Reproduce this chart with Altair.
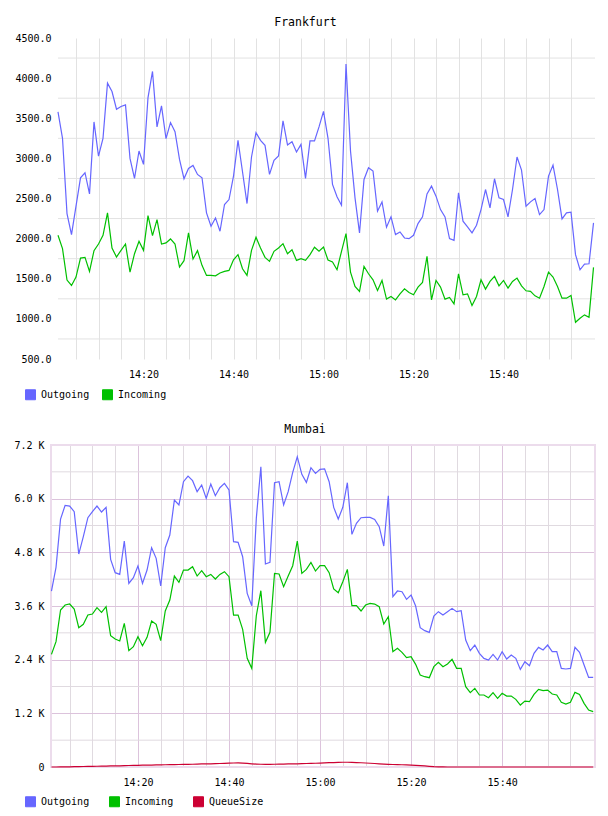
import altair as alt
import pandas as pd

# minutes after 14:00 (14:01 .. 16:00), one sample per minute
minutes = list(range(1, 121))

fra_out = [3579, 3250, 2312, 2050, 2404, 2758, 2821, 2558, 3454, 3029,
           3250, 3937, 3833, 3612, 3646, 3667, 3000, 2750, 3092, 2925,
           3758, 4083, 3392, 3654, 3246, 3446, 3333, 2987, 2746, 2875,
           2912, 2800, 2758, 2321, 2154, 2258, 2092, 2425, 2487, 2779,
           3225, 2833, 2437, 3017, 3321, 3225, 3162, 2800, 2975, 3029,
           3467, 3167, 3208, 3079, 3175, 2750, 3217, 3217, 3392, 3585,
           3250, 2675, 2521, 2417, 4175, 3092, 2508, 2071, 2737, 2883,
           2842, 2342, 2458, 2142, 2271, 2050, 2083, 2008, 2000, 2042,
           2187, 2271, 2558, 2654, 2529, 2362, 2271, 2000, 1979, 2571,
           2217, 2146, 2071, 2167, 2362, 2612, 2383, 2746, 2508, 2487,
           2271, 2612, 3017, 2854, 2404, 2458, 2500, 2300, 2362, 2779,
           2917, 2612, 2246, 2321, 2329, 1800, 1612, 1683, 1687, 2196]

fra_in = [2042, 1875, 1483, 1417, 1521, 1758, 1767, 1592, 1850, 1933,
          2042, 2321, 1883, 1771, 1854, 1933, 1583, 1812, 1967, 1854,
          2287, 2037, 2237, 1933, 1946, 1996, 1933, 1646, 1725, 2071,
          1746, 1850, 1667, 1542, 1542, 1537, 1571, 1592, 1604, 1737,
          1800, 1625, 1542, 1854, 2017, 1883, 1767, 1717, 1842, 1883,
          1937, 1812, 1862, 1729, 1750, 1729, 1800, 1892, 1842, 1894,
          1733, 1708, 1612, 1842, 2062, 1583, 1404, 1342, 1654, 1562,
          1487, 1354, 1479, 1246, 1279, 1237, 1312, 1375, 1329, 1300,
          1396, 1454, 1779, 1237, 1479, 1396, 1246, 1267, 1187, 1562,
          1300, 1312, 1167, 1279, 1487, 1371, 1467, 1529, 1412, 1479,
          1383, 1467, 1508, 1412, 1350, 1342, 1287, 1258, 1404, 1583,
          1521, 1404, 1258, 1258, 1292, 958, 1008, 1050, 1021, 1642]

mum_out = [3935, 4464, 5545, 5850, 5835, 5709, 4762, 5150, 5574, 5709,
           5835, 5701, 5806, 4643, 4345, 4307, 5053, 4106, 4233, 4494,
           4106, 4404, 4904, 4665, 4047, 4904, 5187, 5969, 5858, 6379,
           6506, 6402, 6156, 6305, 6007, 6327, 6066, 6245, 6342, 6193,
           5038, 5023, 4702, 3883, 3607, 5560, 6715, 4539, 4576, 6357,
           6379, 5858, 6156, 6588, 6938, 6543, 6364, 6692, 6566, 6655,
           6667, 6379, 5806, 5545, 5806, 6357, 5202, 5448, 5574, 5582,
           5582, 5537, 5373, 4941, 6066, 3808, 3935, 3920, 3748, 3845,
           3599, 3115, 3048, 3011, 3376, 3473, 3398, 3473, 3547, 3473,
           3495, 2839, 2601, 2727, 2541, 2429, 2392, 2519, 2392, 2578,
           2414, 2504, 2429, 2183, 2355, 2265, 2541, 2675, 2616, 2727,
           2578, 2578, 2206, 2191, 2206, 2675, 2563, 2280, 2004, 2004]

mum_in = [2519, 2802, 3510, 3622, 3644, 3532, 3115, 3190, 3398, 3421,
          3562, 3458, 3584, 2936, 2862, 2817, 3212, 2601, 2690, 2914,
          2712, 2899, 3264, 3190, 2824, 3488, 3734, 4270, 4129, 4404,
          4404, 4479, 4270, 4389, 4255, 4307, 4203, 4307, 4367, 4255,
          3398, 3398, 3078, 2429, 2206, 3383, 3942, 2787, 3011, 4330,
          4315, 4032, 4270, 4501, 5053, 4330, 4419, 4576, 4382, 4501,
          4501, 4345, 3980, 3898, 4144, 4419, 3607, 3607, 3488, 3622,
          3659, 3644, 3584, 3197, 3361, 2578, 2653, 2563, 2444, 2467,
          2295, 2057, 2019, 1997, 2243, 2340, 2243, 2303, 2407, 2206,
          2206, 1796, 1662, 1759, 1610, 1610, 1550, 1662, 1535, 1647,
          1587, 1587, 1513, 1386, 1475, 1460, 1624, 1736, 1707, 1721,
          1632, 1610, 1446, 1408, 1446, 1669, 1624, 1423, 1274, 1237]

mum_queue = [0, 0, 2, 4, 5, 7, 9, 11, 13, 15,
             17, 19, 21, 23, 25, 27, 30, 33, 36, 38,
             40, 42, 44, 46, 48, 50, 52, 54, 56, 58,
             60, 62, 65, 68, 70, 72, 75, 78, 82, 86,
             90, 92, 88, 80, 72, 66, 62, 60, 60, 62,
             64, 66, 68, 70, 72, 75, 78, 80, 84, 88,
             92, 96, 100, 104, 106, 106, 104, 100, 95, 90,
             84, 78, 72, 66, 60, 56, 52, 50, 46, 42,
             36, 30, 24, 16, 8, 4, 2, 0, 0, 0,
             0, 0, 0, 0, 0, 0, 0, 0, 0, 0,
             0, 0, 0, 0, 0, 0, 0, 0, 0, 0,
             0, 0, 0, 0, 0, 0, 0, 0, 0, 0]

series_names = ["Outgoing", "Incoming", "QueueSize"]
series_colors = ["#6666ff", "#00c000", "#cc0033"]

fra_ticks = [500, 1000, 1500, 2000, 2500, 3000, 3500, 4000, 4500]
fra_grid = [750, 1250, 1750, 2250, 2750, 3250, 3750, 4250]
mum_ticks = [0, 1200, 2400, 3600, 4800, 6000, 7200]
mum_minor = [600, 1800, 3000, 4200, 5400, 6600]
time_ticks = list(range(5, 120, 5))

FONT = "DejaVu Sans Mono"
W = 544
H1 = 321
H2 = 322


def long_df(pairs):
    rows = []
    for name, vals in pairs:
        for m, v in zip(minutes, vals):
            rows.append({"m": m, "series": name, "value": v})
    return pd.DataFrame(rows)


fra_df = long_df([("Outgoing", fra_out), ("Incoming", fra_in)])
mum_df = long_df([("Outgoing", mum_out), ("Incoming", mum_in), ("QueueSize", mum_queue)])

TIME_LABEL = ("datum.value % 20 == 0 ? (floor(datum.value / 60) + 14) + ':' + "
              "(datum.value % 60 < 10 ? '0' : '') + (datum.value % 60) : ''")
FILL_EXPR = ("datum.value === 'Outgoing' ? '#6666ff' : "
             "(datum.value === 'Incoming' ? '#00c000' : '#cc0033')")


def make_legend(col_pad, ly):
    return alt.Legend(
        orient="none", legendX=-26, legendY=ly, direction="horizontal", title=None,
        symbolType="square", symbolSize=100, symbolStrokeWidth=1,
        symbolFillColor={"expr": FILL_EXPR}, symbolStrokeColor="#999999",
        symbolOpacity=1,
        labelFont=FONT, labelFontSize=10, labelColor="#000000", labelOffset=5,
        columnPadding=col_pad, padding=0,
    )


# ---------------- Frankfurt ----------------
fra_x_axis = alt.Axis(values=time_ticks, labelExpr=TIME_LABEL, grid=True,
                      gridColor="#e2e2e2", gridWidth=1, ticks=False, domain=False,
                      labelFont=FONT, labelFontSize=10, labelColor="#000000",
                      labelPadding=10, labelFlush=False, labelOverlap=False,
                      title=None)
fra_y_axis = alt.Axis(values=fra_ticks, format=".1f", grid=False, ticks=False,
                      domain=False, labelFont=FONT, labelFontSize=10,
                      labelColor="#000000", labelPadding=0, title=None)
fra_y_scale = alt.Scale(domain=[500, 4500], nice=False, zero=False)

fx = alt.X("m:Q", scale=alt.Scale(domain=[-0.556, 120.33], nice=False, zero=False),
           axis=fra_x_axis)
fy = alt.Y("value:Q", scale=fra_y_scale, axis=fra_y_axis)

# horizontal grid lines (half-way between the value labels, starting at the first sample)
fra_hgrid = alt.Chart(pd.DataFrame({"g": fra_grid})).mark_rule(
    color="#e2e2e2", strokeWidth=1).encode(
    y=alt.Y("g:Q", scale=fra_y_scale, axis=fra_y_axis), x=alt.value(7), x2=alt.value(W))

fra_lines = alt.Chart(fra_df).mark_line(strokeWidth=1.2, interpolate="linear").encode(
    x=fx, y=fy,
    color=alt.Color("series:N",
                    scale=alt.Scale(domain=series_names[:2], range=series_colors[:2]),
                    sort=series_names[:2],
                    legend=make_legend(10, H1 + 30)),
)

fra_chart = alt.layer(fra_hgrid, fra_lines).properties(
    width=W, height=H1,
    title=alt.Title("Frankfurt", font=FONT, fontSize=11.5, fontWeight="normal",
                    color="#000000", anchor="middle", frame="bounds", offset=5),
)

# ---------------- Mumbai ----------------
mum_x_axis = alt.Axis(values=time_ticks, labelExpr=TIME_LABEL, grid=True,
                      gridColor={"condition": {"test": "datum.value % 20 == 0",
                                               "value": "#dcc3dc"},
                                 "value": "#e0dae0"},
                      gridWidth=1, ticks=False, domain=False,
                      labelFont=FONT, labelFontSize=10, labelColor="#000000",
                      labelPadding=10, labelFlush=False, labelOverlap=False,
                      title=None)
mum_y_axis = alt.Axis(values=mum_ticks,
                      labelExpr="datum.value == 0 ? '0' : format(datum.value / 1000, '.1f') + ' K'",
                      grid=True, gridColor="#dcc3dc", gridWidth=1, ticks=False,
                      domain=False, labelFont=FONT, labelFontSize=10,
                      labelColor="#000000", labelPadding=7, title=None)
mum_y_scale = alt.Scale(domain=[0, 7200], nice=False, zero=True)

mx = alt.X("m:Q", scale=alt.Scale(domain=[0.9, 120.4], nice=False, zero=False),
           axis=mum_x_axis)
my = alt.Y("value:Q", scale=mum_y_scale, axis=mum_y_axis)

mum_minor_rules = alt.Chart(pd.DataFrame({"g": mum_minor})).mark_rule(
    color="#e0dae0", strokeWidth=1).encode(
    y=alt.Y("g:Q", scale=mum_y_scale, axis=mum_y_axis), x=alt.value(0), x2=alt.value(W))

mum_border = alt.Chart(pd.DataFrame({"b": [0]})).mark_rect(
    fill=None, stroke="#ecdcec", strokeWidth=2).encode(
    x=alt.value(0), x2=alt.value(W), y=alt.value(0), y2=alt.value(H2))

mum_lines = alt.Chart(mum_df).mark_line(strokeWidth=1.2, interpolate="linear").encode(
    x=mx, y=my,
    color=alt.Color("series:N",
                    scale=alt.Scale(domain=series_names, range=series_colors),
                    sort=series_names,
                    legend=make_legend(17, H2 + 29)),
)

mum_chart = alt.layer(mum_minor_rules, mum_border, mum_lines).properties(
    width=W, height=H2,
    title=alt.Title("Mumbai", font=FONT, fontSize=11.5, fontWeight="normal",
                    color="#000000", anchor="middle", frame="bounds", offset=5),
)

chart = alt.vconcat(fra_chart, mum_chart, spacing=21).resolve_scale(
    x="independent", y="independent", color="independent"
).resolve_legend(color="independent").configure(
    padding={"left": 13, "top": 16, "right": 0, "bottom": 0},
    background="white",
).configure_view(stroke=None)

chart.save("out.html", embed_options={"renderer": "svg", "actions": False})
